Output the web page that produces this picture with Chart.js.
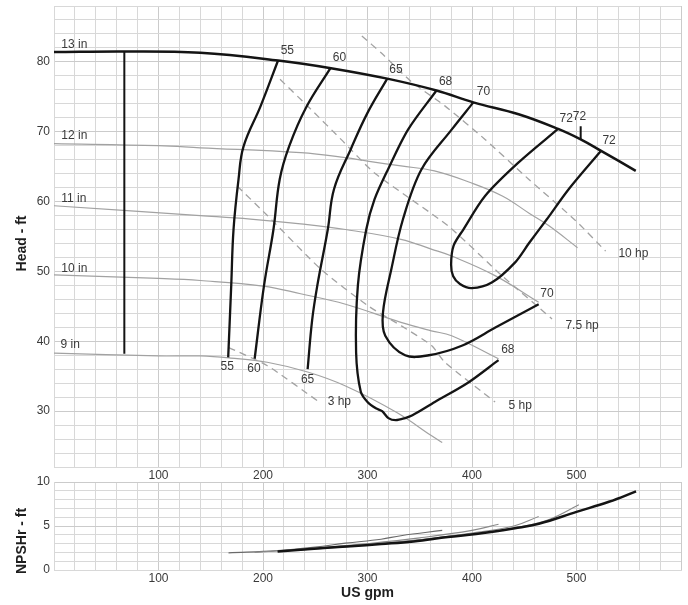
<!DOCTYPE html>
<html><head><meta charset="utf-8">
<script src="https://cdn.jsdelivr.net/npm/chart.js@4.4.1/dist/chart.umd.min.js"></script>
<style>
html,body{margin:0;padding:0;background:#fff;}
#wrap{position:relative;width:688px;height:605px;overflow:hidden;}
canvas{position:absolute;left:0;}
#top{top:0;}
#bot{top:470px;}
</style></head>
<body><div id="wrap"><canvas id="top" width="688" height="484"></canvas><canvas id="bot" width="688" height="135"></canvas></div>
<script>
// ---------- DATA (US gpm, ft) ----------
const imp13 = [[0,81.4],[67.3,81.5],[140,81.3],[214.4,80.2],[265,79.1],[318.9,77.6],[366,75.9],[401.3,74.2],[444.6,72.5],[482.4,70.4],[504,68.9],[523.1,67.3],[556.7,64.4]];
const imp12 = [[0,68.3],[100,68.0],[140,67.7],[236,67.0],[279,66.3],[300,65.8],[332,65.1],[364,64.4],[397,62.8],[429,60.8],[455,58.3],[473,56.6],[501,53.4]];
const imp11 = [[0,59.4],[140,58.0],[188,57.5],[236,56.8],[279,56.0],[332,54.6],[361,53.2],[380.5,52.2],[422,49.4],[463.8,45.6]];
const imp10 = [[0,49.5],[100,49.0],[140,48.7],[200,47.9],[236,46.8],[279,45.3],[332,42.7],[361,41.5],[380.5,40.8],[425.4,37.5]];
const imp9  = [[0,38.3],[100,37.9],[140,37.9],[169,37.6],[204,37.0],[242.7,35.6],[279,33.6],[328,29.8],[361,26.5],[371.5,25.5]];
const minFlow = [[67.3,38.2],[67.3,81.5]];
const bepMark = [[504,70.8],[504,68.9]];
const eff55 = [[214.4,80.2],[197.8,73.7],[181.4,67.9],[176.6,63.2],[171.8,56.0],[169.6,48.0],[166.7,37.7]];
const eff60 = [[265,79.2],[241,73.4],[225,67.9],[216,63.2],[210,56.0],[201,48.0],[192,37.5]];
const eff65 = [[318.9,77.6],[300,72.7],[284,67.5],[268,61.8],[262,56.0],[252,48.0],[247,43.0],[242.7,36.0]];
const eff68 = [[366,75.9],[338.8,70.3],[319.6,64.6],[306.7,60.3],[298.8,56.0],[290.8,48.0],[289.1,38.4],[293.5,32.8],[300,31.3],[308,30.4],[314,30.0],[320,29.0],[327,28.7],[336,29.0],[343,29.4],[364.4,31.3],[396.5,34.1],[425.4,37.3]];
const eff70 = [[401.3,74.2],[380.5,70.3],[351.6,64.6],[334,57.5],[322.8,50.3],[314.8,44.1],[317,40.8],[336,38.0],[358.7,38.0],[390.8,39.4],[422.8,42.0],[463.8,45.3]];
const eff72 = [[482.4,70.4],[444.6,65.6],[412.5,60.8],[391.7,56.0],[382.4,53.7],[380,51.0],[382,49.3],[388.5,48.2],[399.7,47.6],[418.9,48.4],[441.3,51.3],[454.8,54.1],[471.8,57.5],[492.7,61.8],[523.1,67.2]];
const hp10  = [[294.6,83.7],[313,81.3],[341.7,77.2],[374,73.7],[412.5,68.9],[454.2,63.2],[499,57.3],[527.9,52.9]];
const hp75  = [[216.3,77.5],[245.9,73.2],[274.7,68.9],[306.7,64.1],[377.3,56.5],[428.6,49.4],[476.6,43.2]];
const hp5   = [[175.4,62.2],[204.2,58.0],[255.5,50.3],[300.3,45.1],[332.4,42.2],[361.3,39.4],[374,37.0],[422.1,31.3]];
const hp3   = [[167.3,39.1],[204.2,36.5],[253.8,31.3]];
// NPSHr (ft)
const npsh13 = [[214,2.1],[252,2.45],[284,2.7],[313,2.95],[344,3.25],[377,3.75],[404,4.1],[441,4.75],[464,5.25],[500,6.6],[531,7.75],[557,8.93]];
const npsh12 = [[214,2.1],[300,2.85],[400,4.1],[450,5.0],[475,5.8],[502.3,7.41]];
const npsh11 = [[214,2.1],[280,2.75],[340,3.3],[400,4.2],[440,5.0],[463.8,6.08]];
const npsh10 = [[192,2.0],[252,2.5],[300,3.0],[350,3.65],[400,4.5],[425.4,5.2]];
const npsh9  = [[167,1.95],[214,2.2],[250,2.6],[279,3.05],[313,3.5],[332,3.9],[371.5,4.5]];
// tick labels
const xTickLabels = [100,200,300,400,500];
const headTickLabels = [30,40,50,60,70,80];
const npshTickLabels = [0,5,10];
// text labels anchored in data units (gpm, ft)
const headLabels = [
  ['13 in',7,82.4,'left'],['12 in',7,69.4,'left'],['11 in',7,60.4,'left'],['10 in',7,50.4,'left'],['9 in',6.2,39.5,'left'],
  ['55',223.3,81.6,'center'],['60',273.1,80.6,'center'],['65',327.3,78.9,'center'],['68',374.7,77.2,'center'],['70',411,75.7,'center'],
  ['72',490.1,71.8,'center'],['72',502.9,72.1,'center'],['72',531.2,68.7,'center'],
  ['55',165.8,36.3,'center'],['60',191.3,36.1,'center'],['65',242.7,34.5,'center'],['70',471.8,46.8,'center'],['68',434.3,38.8,'center'],
  ['10 hp',540.1,52.5,'left'],['7.5 hp',489.4,42.3,'left'],['5 hp',435,30.8,'left'],['3 hp',261.9,31.4,'left']
];

// ---------- helpers ----------
const FONT = '"Liberation Sans", Arial, Helvetica, sans-serif';
Chart.defaults.font.family = FONT;
Chart.defaults.animation = false;
const pts = a => a.map(p => ({x:p[0], y:p[1]}));
const BLACK = '#141414', GRAY = '#a2a2a2', GRID = '#d8d8d8', GRIDMAJ = '#cbcbcb', TXT = '#3a3a3a';
function line(data, color, width, opts) {
  return Object.assign({data: pts(data), borderColor: color, borderWidth: width, showLine: true,
    pointRadius: 0, tension: 0.4, fill: false}, opts || {});
}
const noPad = s => { s.paddingTop = 0; s.paddingBottom = 0; s.paddingLeft = 0; s.paddingRight = 0; };
const textPlugin = {
  id: 'texts',
  afterDatasetsDraw(chart, args, o) {
    const {ctx} = chart, xs = chart.scales.x, ys = chart.scales.y;
    ctx.save();
    ctx.fillStyle = TXT;
    ctx.font = '12px ' + FONT;
    ctx.textBaseline = 'middle';
    (o.items || []).forEach(l => {
      ctx.textAlign = l[3];
      ctx.fillText(l[0], xs.getPixelForValue(l[1]), ys.getPixelForValue(l[2]));
    });
    if (o.yTitle) {
      ctx.save();
      ctx.translate(22, ys.getPixelForValue(o.yTitleAt));
      ctx.rotate(-Math.PI / 2);
      ctx.textAlign = 'center';
      ctx.fillStyle = '#1e1e1e';
      ctx.font = 'bold 14px ' + FONT;
      ctx.fillText(o.yTitle, 0, 0);
      ctx.restore();
    }
    ctx.restore();
  }
};
function xScale(withTitle, height) {
  return {
    type: 'linear', min: 0, max: 600,
    ticks: {stepSize: 20, autoSkip: false, maxRotation: 0, padding: 1, color: TXT, font: {size: 12},
      callback: v => xTickLabels.includes(v) ? String(v) : ''},
    grid: {drawTicks: false, color: c => (c.tick && c.tick.value % 100 === 0) ? GRIDMAJ : GRID, lineWidth: 1},
    border: {color: GRID},
    title: withTitle ? {display: true, text: 'US gpm', color: '#1e1e1e', font: {size: 14, weight: 'bold'}, padding: {top: 0, bottom: 3}} : {display: false},
    afterFit: s => { s.height = height; noPad(s); }
  };
}
function yScale(min, max, step, labels, major) {
  return {
    type: 'linear', min: min, max: max,
    ticks: {stepSize: step, autoSkip: false, padding: 4, color: TXT, font: {size: 12},
      callback: v => labels.includes(v) ? String(v) : ''},
    grid: {drawTicks: false, color: c => (c.tick && c.tick.value % major === 0) ? GRIDMAJ : GRID, lineWidth: 1},
    border: {color: GRID},
    afterFit: s => { s.width = 54; noPad(s); }
  };
}

// ---------- top chart: head ----------
new Chart(document.getElementById('top'), {
  type: 'scatter',
  data: {datasets: [
    line(imp13, BLACK, 2.5, {order: 0}),
    line(minFlow, BLACK, 2, {order: 0, tension: 0}),
    line(bepMark, BLACK, 2, {order: 0, tension: 0}),
    line(eff55, BLACK, 2.3, {order: 0}),
    line(eff60, BLACK, 2.3, {order: 0}),
    line(eff65, BLACK, 2.3, {order: 0}),
    line(eff68, BLACK, 2.3, {order: 0, tension: 0.3}),
    line(eff70, BLACK, 2.3, {order: 0, tension: 0.35}),
    line(eff72, BLACK, 2.3, {order: 0, tension: 0.3}),
    line(imp12, GRAY, 1.2, {order: 1}),
    line(imp11, GRAY, 1.2, {order: 1}),
    line(imp10, GRAY, 1.2, {order: 1}),
    line(imp9, GRAY, 1.2, {order: 1}),
    line(hp10, GRAY, 1.3, {order: 2, borderDash: [7, 5], tension: 0.2}),
    line(hp75, GRAY, 1.3, {order: 2, borderDash: [7, 5], tension: 0.2}),
    line(hp5, GRAY, 1.3, {order: 2, borderDash: [7, 5], tension: 0.2}),
    line(hp3, GRAY, 1.3, {order: 2, borderDash: [7, 5], tension: 0.2})
  ]},
  options: {
    responsive: false, animation: false,
    layout: {padding: {top: 6, right: 7, left: 0, bottom: 0}},
    plugins: {legend: {display: false}, tooltip: {enabled: false},
      texts: {items: headLabels, yTitle: 'Head - ft', yTitleAt: 54}},
    scales: {x: xScale(false, 17), y: yScale(22, 88, 2, headTickLabels, 10)}
  },
  plugins: [textPlugin]
});

// ---------- bottom chart: NPSHr ----------
new Chart(document.getElementById('bot'), {
  type: 'scatter',
  data: {datasets: [
    line(npsh13, BLACK, 2.5, {order: 0}),
    line(npsh12, '#8a8a8a', 1.1, {order: 1}),
    line(npsh11, '#8a8a8a', 1.1, {order: 1}),
    line(npsh10, '#8a8a8a', 1.1, {order: 1}),
    line(npsh9, '#6a6a6a', 1.1, {order: 1})
  ]},
  options: {
    responsive: false, animation: false,
    layout: {padding: {top: 12, right: 7, left: 0, bottom: 0}},
    plugins: {legend: {display: false}, tooltip: {enabled: false},
      texts: {items: [], yTitle: 'NPSHr - ft', yTitleAt: 3.3}},
    scales: {x: xScale(true, 35), y: yScale(0, 10, 1, npshTickLabels, 5)}
  },
  plugins: [textPlugin]
});
</script>
</body></html>
